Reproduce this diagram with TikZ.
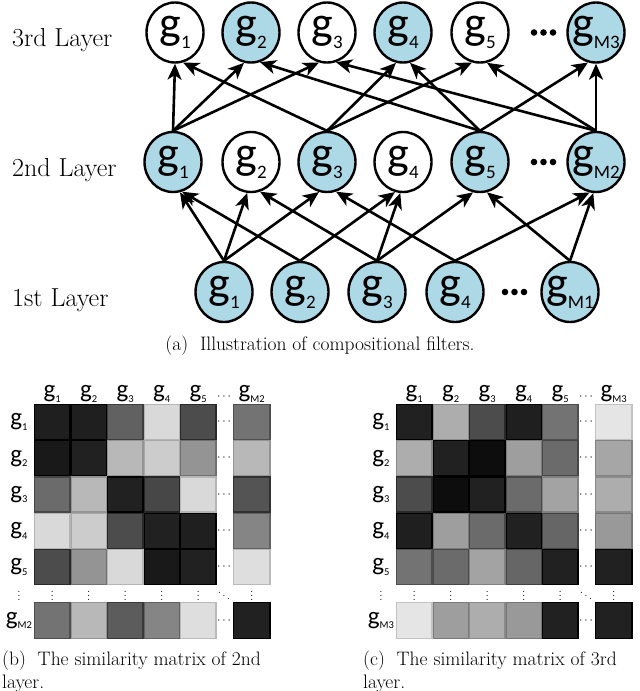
\documentclass[tikz,border=0pt]{standalone}
\usepackage{fontspec}
\newfontfamily\gfont{Carlito}
\usetikzlibrary{arrows.meta,shapes.geometric}
\definecolor{nodeblue}{RGB}{173,216,230}
\newcommand{\gbig}[1]{{\gfont\fontsize{46}{46}\selectfont g\raisebox{-10pt}{\fontsize{19}{19}\selectfont #1}}}
\newcommand{\gsmall}[1]{{\gfont\fontsize{25}{25}\selectfont g\raisebox{-4.5pt}{\fontsize{10.5}{10.5}\selectfont #1}}}
\newcommand{\simmat}[4]{%
  \foreach \rowvals [count=\cj from 0] in {#2} {
    \foreach \val [count=\ci from 0] in \rowvals {
      \pgfmathsetmacro\cx{\ci<5 ? #1+\ci*36.5 : #1+199}
      \pgfmathsetmacro\cy{\cj<5 ? 404+\cj*36.2 : 602}
      \pgfmathsetmacro\cw{\ci<5 ? 36.5 : 37.5}
      \pgfmathsetmacro\ch{\cj<5 ? 36.2 : 37}
      \pgfmathtruncatemacro\bd{min(100,\val+14)}
      \filldraw[fill=black!\val, draw=black!\bd, line width=1.2pt] (\cx+0.6,\cy+0.6) rectangle (\cx+\cw-0.6,\cy+\ch-0.6);
    }
  }
  \foreach \k in {1,...,5} {
    \node[mlab] (#4c\k) at (#1+\k*36.5-18.25, 394) {\gsmall{\k}};
    \node[mlab] (#4r\k) at (#1-15, 404+\k*36.2-18.1) {\gsmall{\k}};
    \node[mdots] (#4h\k) at (#1+190, 404+\k*36.2-18.1) {$\cdots$};
    \node[mdots] (#4v\k) at (#1+\k*36.5-18.25, 593) {$\vdots$};
  }
  \node[mlab] (#4cM) at (#1+217.75, 394) {\gsmall{#3}};
  \node[mlab] (#4rM) at (#1-15, 620.5) {\gsmall{#3}};
  \node[mdots] (#4hh) at (#1+190, 397) {$\cdots$};
  \node[mdots] (#4hM) at (#1+190, 620.5) {$\cdots$};
  \node[mdots] (#4vr) at (#1-15, 593) {$\vdots$};
  \node[mdots] (#4vM) at (#1+217.75, 593) {$\vdots$};
  \node[mdots] (#4dd) at (#1+190, 593) {$\ddots$};
}
\begin{document}
\begin{tikzpicture}[x=1pt,y=-1pt,
  gnode/.style={ellipse, draw=black, line width=2.4pt, minimum width=57pt, minimum height=60pt, inner sep=0pt, fill=white},
  bnode/.style={gnode, fill=nodeblue},
  glab/.style={inner sep=0pt},
  conn/.style={line width=2.6pt, -{Stealth[length=16pt,width=14pt,inset=4.5pt]}},
  layertext/.style={anchor=base west, inner sep=0pt, font=\fontsize{26}{26}\selectfont},
  captext/.style={anchor=base west, font=\fontsize{19.5}{23}\selectfont, inner sep=0pt},
  mlab/.style={inner sep=0pt},
  mdots/.style={inner sep=0pt, font=\fontsize{12}{12}\selectfont},
]
\fill[white] (0,0) rectangle (640,691);
\useasboundingbox (0,0) rectangle (640,691);

% layer labels
\node[layertext] (L3) at (12,46) {3rd Layer};
\node[layertext] (L2) at (12,176) {2nd Layer};
\node[layertext] (L1) at (12,306) {1st Layer};

% 3rd layer
\node[gnode] (t1) at (175,32.5) {};
\node[bnode] (t2) at (251,32.5) {};
\node[gnode] (t3) at (327,32.5) {};
\node[bnode] (t4) at (403,32.5) {};
\node[gnode] (t5) at (480,32.5) {};
\node[bnode] (tM) at (596,32.5) {};
% 2nd layer
\node[bnode] (s1) at (173,162) {};
\node[gnode] (s2) at (251,162) {};
\node[bnode] (s3) at (327,162) {};
\node[gnode] (s4) at (403,162) {};
\node[bnode] (s5) at (480,162) {};
\node[bnode] (sM) at (596,162) {};
% 1st layer
\node[bnode] (f1) at (224,292) {};
\node[bnode] (f2) at (300,292) {};
\node[bnode] (f3) at (377,292) {};
\node[bnode] (f4) at (455,292) {};
\node[bnode] (fM) at (570,292) {};

% labels
\foreach \n/\t in {t1/1,t2/2,t3/3,t4/4,t5/5,tM/M3,s1/1,s2/2,s3/3,s4/4,s5/5,sM/M2,f1/1,f2/2,f3/3,f4/4,fM/M1}
  \node[glab] (\n l) at (\n) {\gbig{\t}};

% dots
\foreach \y in {32.5,162} {
  \fill (534,\y) circle (3.3);
  \fill (543.5,\y) circle (3.3);
  \fill (553,\y) circle (3.3);
}
\fill (505,292) circle (3.3);
\fill (514.5,292) circle (3.3);
\fill (524,292) circle (3.3);

% 1st -> 2nd
\draw[conn] (f1.north) -- (s1.283);
\draw[conn] (f1.north) -- (s2.263);
\draw[conn] (f1.north) -- (s3.255);
\draw[conn] (f2.north) -- (s1.287);
\draw[conn] (f2.north) -- (s4.255);
\draw[conn] (f3.north) -- (s2.287);
\draw[conn] (f3.north) -- (s4.265);
\draw[conn] (f3.north) -- (s5.257);
\draw[conn] (f4.north) -- (s3.287);
\draw[conn] (f4.north) -- (sM.258);
\draw[conn] (fM.north) -- (s5.283);
\draw[conn] (fM.north) -- (sM.265);

% 2nd -> 3rd
\draw[conn] (s1.north) -- (t1.south);
\draw[conn] (s1.north) -- (t2.257);
\draw[conn] (s1.north) -- (t3.255);
\draw[conn] (s3.north) -- (t1.285);
\draw[conn] (s3.north) -- (t4.257);
\draw[conn] (s3.north) -- (t5.255);
\draw[conn] (s5.north) -- (t2.287);
\draw[conn] (s5.north) -- (t4.283);
\draw[conn] (s5.north) -- (tM.255);
\draw[conn] (sM.north) -- (t3.287);
\draw[conn] (sM.north) -- (t5.283);
\draw[conn] (sM.north) -- (tM.south);

\node[anchor=base, inner sep=0pt, font=\fontsize{19.5}{23}\selectfont] (capa) at (320,350) {(a)\ \ Illustration of compositional filters.};

% matrices
\simmat{34}{{88,88,62,15,70,55},{90,87,28,20,42,28},{58,28,87,72,15,67},{15,20,70,87,88,48},{70,42,15,90,87,13},{55,28,64,48,13,87}}{M2}{b}
\simmat{396}{{87,32,70,88,55,10},{32,87,95,38,58,35},{70,95,87,58,36,32},{88,38,58,87,60,40},{55,58,36,60,87,87},{10,38,32,40,87,87}}{M3}{c}

\node[captext] (capb1) at (2,665) {(b)\ \ The similarity matrix of 2nd};
\node[captext] (capb2) at (2,688) {layer.};
\node[captext] (capc1) at (363,665) {(c)\ \ The similarity matrix of 3rd};
\node[captext] (capc2) at (363,688) {layer.};
\end{tikzpicture}
\end{document}
